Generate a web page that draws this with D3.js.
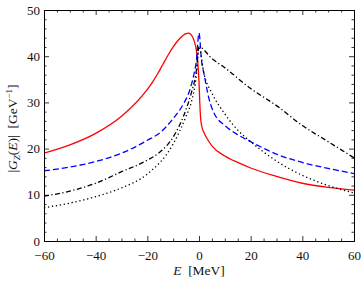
<!DOCTYPE html>
<html>
<head>
<meta charset="utf-8">
<script src="https://cdn.jsdelivr.net/npm/d3@7"></script>
<style>
  body { margin: 0; background: #fff; }
  svg text { font-family: "Liberation Serif", "Times New Roman", "DejaVu Serif", serif; }
</style>
</head>
<body>
<div class="main"></div>
<script>
// Valeurs : E [MeV] et |G_Z(E)| [GeV^-1]
const redE   = [-60, -50, -40, -30, -20, -18, -16, -14, -12, -10, -8, -6, -5, -4, -3, -2, -1, -0.5, 0, 0.3, 0.6, 1, 2, 3, 5, 10, 15, 20, 30, 40, 50, 60];
const redG   = [19, 20.8, 23.3, 27, 32.8, 34.4, 36.2, 38.2, 40.2, 42, 43.5, 44.6, 44.9, 45, 44.6, 43.5, 41.2, 38.8, 34.5, 30, 26.8, 25, 23.4, 22.3, 20.6, 18.4, 17, 15.8, 14, 12.5, 11.6, 11];
const blueE  = [-60, -50, -40, -30, -20, -15, -10, -6, -4, -2, -1, 0, 1, 2, 4, 6, 10, 15, 20, 30, 40, 50, 60];
const blueG  = [15.2, 16, 17.2, 19, 21.8, 23.5, 26.5, 29.7, 32, 36, 39, 45, 39, 36, 30.5, 27.5, 25, 23, 21.5, 18.8, 17, 15.7, 14.6];
const dashE  = [-60, -50, -40, -30, -20, -15, -10, -5, -3, -1, 0, 5, 10, 20, 30, 40, 50, 60];
const dashG  = [9.7, 10.8, 12.5, 15, 17.5, 19.3, 22.5, 28.5, 32, 37, 42, 39.5, 37.5, 33, 29.3, 25, 21.5, 18];
const dotE   = [-60, -50, -40, -30, -20, -10, -5, -3, -1, 0, 2, 5, 10, 15, 20, 30, 40, 50, 60];
const dotG   = [7.2, 8.2, 9.6, 11.5, 14.5, 21, 27, 30, 36, 42, 36, 32, 27.5, 24, 21.5, 17.3, 14.2, 12, 10.4];

const xMajor = [-60, -40, -20, 0, 20, 40, 60];
const yMajor = [0, 10, 20, 30, 40, 50];

// Dimensions et marges
const margin = { top: 10, right: 7, bottom: 45, left: 44 };
const W = 361, H = 286;
const width = W - margin.left - margin.right;
const height = H - margin.top - margin.bottom;

const svg = d3.select('.main')
              .append('svg')
                  .attr('width', W)
                  .attr('height', H)
              .append('g')
                  .attr('transform', 'translate(' + margin.left + ',' + margin.top + ')');

const x = d3.scaleLinear().domain([-60, 60]).range([0, width]);
const y = d3.scaleLinear().domain([0, 50]).range([height, 0]);

// Courbes
const courbes = [
  { e: redE,  g: redG,  color: '#ff0000', dash: null },
  { e: blueE, g: blueG, color: '#0000ff', dash: '6,3' },
  { e: dashE, g: dashG, color: '#000000', dash: '5,2.5,1.2,2.5' },
  { e: dotE,  g: dotG,  color: '#000000', dash: '1.3,2.7' }
];

svg.append('clipPath').attr('id', 'clip')
  .append('rect').attr('width', width).attr('height', height);

const line = d3.line()
    .x(d => x(d[0]))
    .y(d => y(d[1]))
    .curve(d3.curveMonotoneX);

const plot = svg.append('g').attr('clip-path', 'url(#clip)');
courbes.forEach(c => {
  plot.append('path')
      .datum(c.e.map((v, i) => [v, c.g[i]]))
      .attr('fill', 'none')
      .attr('stroke', c.color)
      .attr('stroke-width', 1.3)
      .attr('stroke-dasharray', c.dash)
      .attr('d', line);
});

// Axes (graduations vers l'intérieur, sur les quatre côtés)
const xMinor = d3.range(-60, 61, 5).filter(v => xMajor.indexOf(v) < 0);
const yMinor = d3.range(0, 51, 2).filter(v => yMajor.indexOf(v) < 0);
const fmt = d => (d < 0 ? '\u2212' + Math.abs(d) : '' + d);

function axe(gen, scale, major, minor, labels) {
  const g = svg.append('g');
  g.call(gen(scale).tickValues(major).tickSize(-5).tickPadding(8).tickFormat(labels ? fmt : ''));
  const gm = svg.append('g');
  gm.call(gen(scale).tickValues(minor).tickSize(-2.5).tickFormat(''));
  gm.select('.domain').remove();
  return [g, gm];
}

const axeBas = axe(d3.axisBottom, x, xMajor, xMinor, true);
axeBas.forEach(g => g.attr('transform', 'translate(0,' + height + ')'));
axe(d3.axisTop, x, xMajor, xMinor, false);
const axeGauche = axe(d3.axisLeft, y, yMajor, yMinor, true);
const axeDroit = axe(d3.axisRight, y, yMajor, yMinor, false);
axeDroit.forEach(g => g.attr('transform', 'translate(' + width + ',0)'));

svg.selectAll('.domain').attr('stroke', '#000').attr('stroke-width', 1);
svg.selectAll('.tick line').attr('stroke', '#000').attr('stroke-width', 0.8);
svg.selectAll('.tick text')
   .attr('font-size', 13)
   .attr('fill', '#111');
axeGauche[0].selectAll('.tick text').attr('x', -4);
axeBas[0].selectAll('.tick text').attr('y', 9.5);

// Titre de l'axe x
const tx = svg.append('text')
    .attr('x', width / 2)
    .attr('y', height + 34)
    .attr('text-anchor', 'middle')
    .attr('font-size', 13.5)
    .attr('fill', '#111');
tx.append('tspan').attr('font-style', 'italic').text('E');
tx.append('tspan').attr('xml:space', 'preserve').text('  [MeV]');

// Titre de l'axe y
const ty = svg.append('text')
    .attr('transform', 'rotate(-90)')
    .attr('x', -(height / 2 + 3))
    .attr('y', -margin.left + 17)
    .attr('text-anchor', 'middle')
    .attr('font-size', 13.5)
    .attr('fill', '#111');
ty.append('tspan').text('|');
ty.append('tspan').attr('font-style', 'italic').text('G');
ty.append('tspan').attr('font-size', 9).attr('dy', 3).attr('font-style', 'italic').text('Z');
ty.append('tspan').attr('dy', -3).text('(');
ty.append('tspan').attr('font-style', 'italic').text('E');
ty.append('tspan').attr('xml:space', 'preserve').text(')|  [GeV');
ty.append('tspan').attr('font-size', 9).attr('dy', -5).text('\u22121');
ty.append('tspan').attr('dy', 5).text(']');
</script>
</body>
</html>
